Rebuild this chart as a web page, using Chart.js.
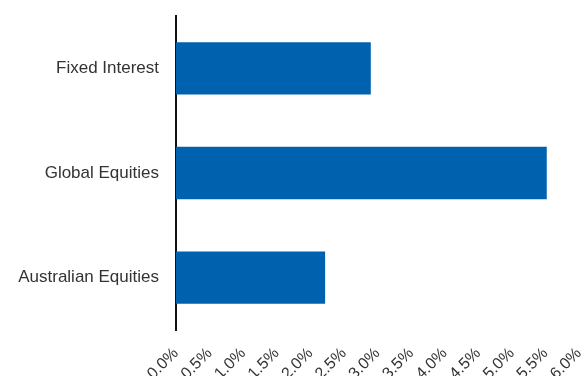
<!DOCTYPE html>
<html lang="en">
<head>
    <meta charset="UTF-8">
    <title>Asset class returns</title>
    <style>
        html, body { margin: 0; padding: 0; background: #fff; }
        .wrap { width: 584px; height: 376px; }
    </style>
</head>
<body>
    <div class="wrap">
        <canvas id="myChart" width="584" height="376"></canvas>
    </div>
    <script src="https://cdn.jsdelivr.net/npm/chart.js"></script>
    <script>
        var categories = ['Fixed Interest', 'Global Equities', 'Australian Equities'];
        var returns = [2.9, 5.52, 2.22];
        var tickMin = 0;
        var tickMax = 6;
        var tickStep = 0.5;

        function createChart(){
            var ctx = document.getElementById('myChart').getContext('2d');
            var myBarChart = new Chart(ctx, {
                type: 'bar',
                data: {
                    labels: categories,
                    datasets: [
                        {
                            data: returns,
                            backgroundColor: '#0061ae',
                            barPercentage: 0.5,
                            categoryPercentage: 1.0
                        }
                    ]
                },
                options: {
                    indexAxis: 'y',
                    responsive: false,
                    animation: false,
                    layout: { padding: { top: 16, right: 5, left: 0, bottom: 0 } },
                    plugins: {
                        legend: { display: false },
                        tooltip: { enabled: false }
                    },
                    scales: {
                        x: {
                            min: tickMin,
                            max: tickMax,
                            grid: { display: false, drawTicks: false },
                            border: { display: false },
                            ticks: {
                                stepSize: tickStep,
                                minRotation: 45,
                                maxRotation: 45,
                                padding: 14,
                                color: '#333',
                                font: { family: 'Liberation Sans', size: 16 },
                                callback: function(v){ return Number(v).toFixed(1) + '%'; }
                            },
                            afterFit: function(scale){
                                scale.height = 46;
                                scale.paddingLeft = 0;
                                scale.paddingRight = 0;
                            }
                        },
                        y: {
                            grid: { display: false, drawTicks: false },
                            border: { display: true, color: '#111', width: 2 },
                            ticks: {
                                padding: 17,
                                color: '#333',
                                font: { family: 'Liberation Sans', size: 17 }
                            },
                            afterFit: function(scale){
                                scale.width = 176;
                                scale.paddingTop = 0;
                                scale.paddingBottom = 0;
                            }
                        }
                    }
                }
            });
        }

        createChart();
    </script>
</body>
</html>
